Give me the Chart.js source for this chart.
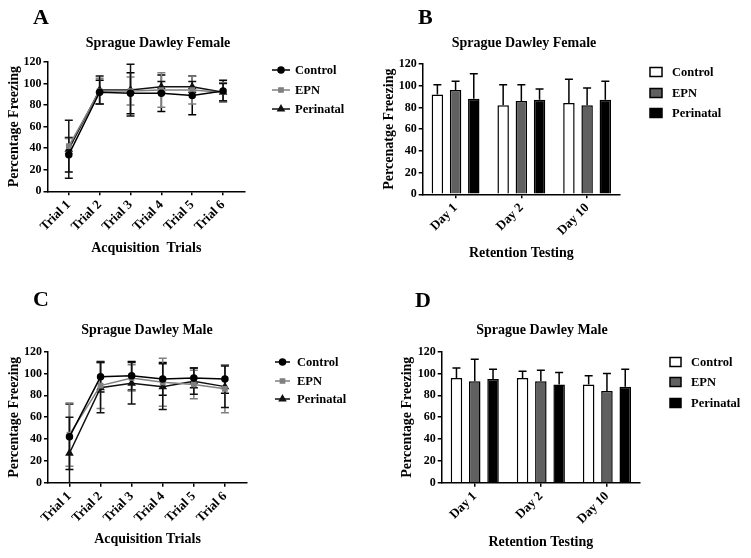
<!DOCTYPE html>
<html>
<head>
<meta charset="utf-8">
<script src="https://cdn.jsdelivr.net/npm/chart.js@4.4.0/dist/chart.umd.min.js"></script>
<style>
  body { margin: 0; background: #fff; width: 751px; height: 558px; position: relative; overflow: hidden; font-family: "Liberation Serif", "Times New Roman", serif; }
  .panel { position: absolute; width: 375px; height: 279px; }
  .letter { position: absolute; font-weight: bold; font-size: 22px; line-height: 22px; color: #000; }
</style>
</head>
<body>
<div class="panel" style="left:0;top:0"><canvas id="chartA" width="375" height="279"></canvas></div>
<div class="panel" style="left:375px;top:0"><canvas id="chartB" width="375" height="279"></canvas></div>
<div class="panel" style="left:0;top:279px"><canvas id="chartC" width="375" height="279"></canvas></div>
<div class="panel" style="left:375px;top:279px"><canvas id="chartD" width="375" height="279"></canvas></div>
<div class="letter" style="left:33px;top:6px">A</div>
<div class="letter" style="left:418px;top:6px">B</div>
<div class="letter" style="left:33px;top:288px">C</div>
<div class="letter" style="left:415px;top:289px">D</div>

<script>
// categories
const trialLabels = ['Trial 1', 'Trial 2', 'Trial 3', 'Trial 4', 'Trial 5', 'Trial 6']
const dayLabels = ['Day 1', 'Day 2', 'Day 10']
const groupNames = ['Control', 'EPN', 'Perinatal']

// A - female acquisition (mean, SD)
const femaleAcqControl = [34, 92, 91, 91, 89, 93]
const femaleAcqControlErr = [16, 11, 19, 17, 18, 10]
const femaleAcqEpn = [42, 93, 93, 94, 94, 92]
const femaleAcqEpnErr = [7, 12, 13, 16, 13, 9]
const femaleAcqPerinatal = [39, 94, 94, 97, 97, 92]
const femaleAcqPerinatalErr = [27, 13, 24, 5, 5, 8]

// B - female retention
const femaleRetControl = [92, 82, 84]
const femaleRetControlErr = [9, 19, 22]
const femaleRetEpn = [96, 86, 82]
const femaleRetEpnErr = [8, 15, 16]
const femaleRetPerinatal = [88, 87, 87]
const femaleRetPerinatalErr = [23, 10, 17]

// C - male acquisition
const maleAcqControl = [42, 97, 98, 95, 96, 95]
const maleAcqControlErr = [30, 14, 13, 15, 9, 13]
const maleAcqEpn = [44, 89, 96, 92, 90, 86]
const maleAcqEpnErr = [29, 21, 12, 22, 13, 22]
const maleAcqPerinatal = [27, 87, 91, 88, 93, 88]
const maleAcqPerinatalErr = [33, 23, 19, 21, 12, 19]

// D - male retention
const maleRetControl = [96, 96, 90]
const maleRetControlErr = [9, 6, 8]
const maleRetEpn = [93, 93, 84]
const maleRetEpnErr = [20, 10, 16]
const maleRetPerinatal = [95, 90, 88]
const maleRetPerinatalErr = [9, 11, 16]

const FONT = '"Liberation Serif", "Times New Roman", serif'
Chart.defaults.font.family = FONT
Chart.defaults.color = '#000'
const W = 375, H = 279, LH = 14 * 1.2

// error bars drawn through the y scale
const errorBars = {
	id: 'errorBars',
	beforeDatasetsDraw(chart, args, o) {
		const ctx = chart.ctx
		const y = chart.scales.y
		chart.data.datasets.forEach((ds, di) => {
			const meta = chart.getDatasetMeta(di)
			ctx.save()
			ctx.strokeStyle = ds.errColor
			ctx.lineWidth = 1.5
			meta.data.forEach((el, i) => {
				const raw = ds.data[i]
				const v = typeof raw === 'object' ? raw.y : raw
				const e = ds.errors[i]
				const top = y.getPixelForValue(v + e)
				const bot = o.upOnly ? y.getPixelForValue(v) : y.getPixelForValue(Math.max(0, v - e))
				ctx.beginPath()
				ctx.moveTo(el.x, top); ctx.lineTo(el.x, bot)
				ctx.moveTo(el.x - o.cap, top); ctx.lineTo(el.x + o.cap, top)
				if (!o.upOnly && v - e > 0) { ctx.moveTo(el.x - o.cap, bot); ctx.lineTo(el.x + o.cap, bot) }
				ctx.stroke()
			})
			ctx.restore()
		})
	}
}

// panel title and legend
const panelText = {
	id: 'panelText',
	afterDraw(chart, args, o) {
		const ctx = chart.ctx
		ctx.save()
		ctx.fillStyle = '#000'
		ctx.textAlign = 'center'
		ctx.textBaseline = 'middle'
		ctx.font = `bold 14px ${FONT}`
		ctx.fillText(o.title, o.titleX, o.titleY)
		ctx.textAlign = 'left'
		chart.data.datasets.forEach((ds, i) => {
			const y = o.ys[i]
			if (o.kind === 'line') {
				ctx.strokeStyle = ds.borderColor
				ctx.fillStyle = ds.borderColor
				ctx.lineWidth = 1.5
				ctx.beginPath(); ctx.moveTo(o.x1, y); ctx.lineTo(o.x2, y); ctx.stroke()
				Chart.helpers.drawPoint(ctx, {pointStyle: ds.pointStyle, radius: ds.pointRadius, borderWidth: 1, rotation: 0}, (o.x1 + o.x2) / 2, y)
			} else {
				ctx.fillStyle = ds.backgroundColor
				ctx.fillRect(o.x1, y - o.bh / 2, o.x2 - o.x1, o.bh)
				ctx.strokeStyle = '#000'
				ctx.lineWidth = 1.5
				ctx.strokeRect(o.x1, y - o.bh / 2, o.x2 - o.x1, o.bh)
			}
			ctx.fillStyle = '#000'
			ctx.font = `bold 12.5px ${FONT}`
			ctx.fillText(ds.label, o.tx, y + 1)
		})
		ctx.restore()
	}
}

function axisBox(geo) {
	const pad = {left: geo.yTitleX - LH / 2, top: geo.top, right: W - geo.right, bottom: H - geo.xTitleY - LH / 2}
	return {pad, yWidth: geo.left - pad.left, xHeight: (H - pad.bottom) - geo.bottom}
}

function yAxis(title, box) {
	return {
		min: 0, max: 120,
		ticks: {stepSize: 20, padding: 2, font: {size: 12, weight: 'bold'}},
		grid: {drawOnChartArea: false, tickLength: 4, color: '#000', lineWidth: 1.5},
		border: {color: '#000', width: 1.5},
		title: {display: true, text: title, padding: 0, font: {size: 14, weight: 'bold'}},
		afterFit: s => { s.width = box.yWidth }
	}
}

function xTitle(text) {
	return {display: true, text: text, padding: 0, font: {size: 14, weight: 'bold'}}
}

function lineChart(id, geo, series, title, xText, legend) {
	const box = axisBox(geo)
	const styles = [
		{color: '#000', point: 'circle', r: 3},
		{color: '#808080', point: 'rect', r: 3},
		{color: '#111', point: 'triangle', r: 3.5}
	]
	new Chart(document.getElementById(id), {
		type: 'line',
		data: {
			datasets: series.map((s, k) => ({
				label: groupNames[k],
				data: trialLabels.map((t, i) => ({x: i + 1, y: s.values[i]})),
				errors: s.errors,
				errColor: styles[k].color,
				borderColor: styles[k].color,
				backgroundColor: styles[k].color,
				pointBackgroundColor: styles[k].color,
				pointBorderColor: styles[k].color,
				pointStyle: styles[k].point,
				pointRadius: styles[k].r,
				borderWidth: 1.5,
				tension: 0
			}))
		},
		options: {
			responsive: false, animation: false, devicePixelRatio: 1,
			layout: {padding: box.pad},
			plugins: {
				legend: {display: false}, tooltip: {enabled: false},
				errorBars: {cap: 4, upOnly: false},
				panelText: Object.assign({title, kind: 'line'}, legend, {titleX: geo.titleX, titleY: geo.titleY})
			},
			scales: {
				x: {
					type: 'linear', min: geo.xMin, max: geo.xMax,
					afterBuildTicks: s => { s.ticks = trialLabels.map((t, i) => ({value: i + 1})) },
					ticks: {autoSkip: false, minRotation: 45, maxRotation: 45, padding: 2, font: {size: 13, weight: 'bold'},
						callback: v => trialLabels[v - 1]},
					grid: {drawOnChartArea: false, tickLength: 4, color: '#000', lineWidth: 1.5},
					border: {color: '#000', width: 1.5},
					title: xTitle(xText),
					afterFit: s => { s.height = box.xHeight }
				},
				y: yAxis('Percentage Freezing', box)
			}
		},
		plugins: [errorBars, panelText]
	})
}

function barChart(id, geo, series, title, yText, legend) {
	const box = axisBox(geo)
	const fills = ['#fff', '#606060', '#000']
	new Chart(document.getElementById(id), {
		type: 'bar',
		data: {
			labels: dayLabels,
			datasets: series.map((s, k) => ({
				label: groupNames[k],
				data: s.values,
				errors: s.errors,
				errColor: '#000',
				backgroundColor: fills[k],
				borderColor: '#000',
				borderWidth: 1.5,
				categoryPercentage: 0.83,
				barPercentage: 0.63
			}))
		},
		options: {
			responsive: false, animation: false, devicePixelRatio: 1,
			layout: {padding: box.pad},
			plugins: {
				legend: {display: false}, tooltip: {enabled: false},
				errorBars: {cap: 4, upOnly: true},
				panelText: Object.assign({title, kind: 'box'}, legend, {titleX: geo.titleX, titleY: geo.titleY})
			},
			scales: {
				x: {
					ticks: {autoSkip: false, minRotation: 45, maxRotation: 45, padding: 2, font: {size: 13, weight: 'bold'}},
					grid: {offset: false, drawOnChartArea: false, tickLength: 4, color: '#000', lineWidth: 1.5},
					border: {color: '#000', width: 1.5},
					title: xTitle('Retention Testing'),
					afterFit: s => { s.height = box.xHeight }
				},
				y: yAxis(yText, box)
			}
		},
		plugins: [errorBars, panelText]
	})
}

lineChart('chartA',
	{left: 47.5, right: 245, top: 62, bottom: 191.3, titleX: 158, titleY: 43, yTitleX: 14, xTitleY: 248, xMin: 0.31, xMax: 6.71},
	[
		{values: femaleAcqControl, errors: femaleAcqControlErr},
		{values: femaleAcqEpn, errors: femaleAcqEpnErr},
		{values: femaleAcqPerinatal, errors: femaleAcqPerinatalErr}
	],
	'Sprague Dawley Female', 'Acquisition  Trials',
	{x1: 272, x2: 290, tx: 295, ys: [70, 90, 109]})

barChart('chartB',
	{left: 47.7, right: 245, top: 64, bottom: 194.3, titleX: 149, titleY: 43, yTitleX: 14, xTitleY: 253},
	[
		{values: femaleRetControl, errors: femaleRetControlErr},
		{values: femaleRetEpn, errors: femaleRetEpnErr},
		{values: femaleRetPerinatal, errors: femaleRetPerinatalErr}
	],
	'Sprague Dawley Female', 'Percenatge Freezing',
	{x1: 275, x2: 287, bh: 9, tx: 297, ys: [72, 93, 113]})

lineChart('chartC',
	{left: 48, right: 247, top: 72.7, bottom: 203.7, titleX: 147, titleY: 51, yTitleX: 14, xTitleY: 260, xMin: 0.31, xMax: 6.71},
	[
		{values: maleAcqControl, errors: maleAcqControlErr},
		{values: maleAcqEpn, errors: maleAcqEpnErr},
		{values: maleAcqPerinatal, errors: maleAcqPerinatalErr}
	],
	'Sprague Dawley Male', 'Acquisition Trials',
	{x1: 275, x2: 290, tx: 297, ys: [83, 102, 120]})

barChart('chartD',
	{left: 66.7, right: 265, top: 72.7, bottom: 203.7, titleX: 167, titleY: 51, yTitleX: 32, xTitleY: 263},
	[
		{values: maleRetControl, errors: maleRetControlErr},
		{values: maleRetEpn, errors: maleRetEpnErr},
		{values: maleRetPerinatal, errors: maleRetPerinatalErr}
	],
	'Sprague Dawley Male', 'Percentage Freezing',
	{x1: 295, x2: 306, bh: 9, tx: 316, ys: [83, 103, 124]})
</script>
</body>
</html>
